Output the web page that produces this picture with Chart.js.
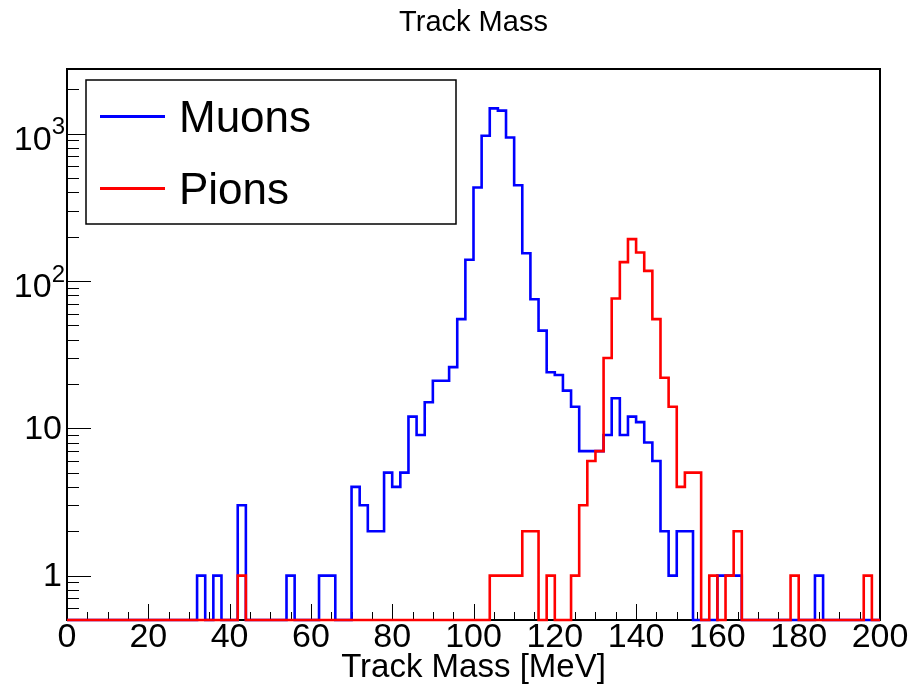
<!DOCTYPE html>
<html>
<head>
<meta charset="utf-8">
<title>Track Mass</title>
<script src="https://cdn.jsdelivr.net/npm/chart.js@4.4.1/dist/chart.umd.min.js"></script>
<style>
  html, body { margin: 0; padding: 0; background: #fff; }
  #wrap { width: 909px; height: 686px; }
</style>
</head>
<body>
<div id="wrap"><canvas id="massChart" width="909" height="686"></canvas></div>
<script>
// === Histogram data: 100 bins of 2 MeV between 0 and 200 MeV ===
const BIN_WIDTH = 2;
const X_MIN = 0;
const X_MAX = 200;
const Y_MIN = 0.5;
const Y_MAX = 2740;

const muonCounts = [
  0, 0, 0, 0, 0, 0, 0, 0, 0, 0,
  0, 0, 0, 0, 0, 0, 1, 0, 1, 0,
  0, 3, 0, 0, 0, 0, 0, 1, 0, 0,
  0, 1, 1, 0, 0, 4, 3, 2, 2, 5,
  4, 5, 12, 9, 15, 21, 21, 26, 55, 139,
  430, 965, 1480, 1430, 940, 446, 154, 75, 46, 24,
  23, 18, 14, 7, 7, 7, 9, 16, 9, 12,
  11, 8, 6, 2, 1, 2, 2, 0, 0, 0,
  1, 1, 1, 0, 0, 0, 0, 0, 0, 0,
  0, 0, 1, 0, 0, 0, 0, 0, 0, 0
];

const pionCounts = [
  0, 0, 0, 0, 0, 0, 0, 0, 0, 0,
  0, 0, 0, 0, 0, 0, 0, 0, 0, 0,
  0, 1, 0, 0, 0, 0, 0, 0, 0, 0,
  0, 0, 0, 0, 0, 0, 0, 0, 0, 0,
  0, 0, 0, 0, 0, 0, 0, 0, 0, 0,
  0, 0, 1, 1, 1, 1, 2, 2, 0, 1,
  0, 0, 1, 3, 6, 7, 30, 76, 134, 192,
  156, 117, 55, 22, 14, 4, 5, 5, 0, 1,
  0, 1, 2, 0, 0, 0, 0, 0, 0, 1,
  0, 0, 0, 0, 0, 0, 0, 0, 1, 0
];

const xTickLabels = [0, 20, 40, 60, 80, 100, 120, 140, 160, 180, 200];
const yTickLabels = [1, 10, 100, 1000];

const FONT = '"Liberation Sans", Arial, Helvetica, sans-serif';

// Histogram outline as step points; empty bins sit on the axis floor
function buildSteps(counts) {
  const pts = counts.map((c, i) => ({
    x: X_MIN + i * BIN_WIDTH,
    y: c > 0 ? c : Y_MIN,
  }));
  const last = counts[counts.length - 1];
  pts.push({ x: X_MAX, y: last > 0 ? last : Y_MIN });
  return pts;
}

function strokeLine(ctx, x1, y1, x2, y2) {
  ctx.beginPath();
  ctx.moveTo(x1, y1);
  ctx.lineTo(x2, y2);
  ctx.stroke();
}

// Frame, inward ticks, labels, titles and legend drawn in the usual ROOT style
const rootStyle = {
  id: "rootStyle",
  beforeDatasetsDraw(chart) {
    const { ctx, chartArea: a, scales } = chart;
    const x = scales.x;
    const y = scales.y;
    ctx.save();
    ctx.strokeStyle = "#000";
    ctx.lineWidth = 1;

    // x ticks: major every 20, minor every 5
    for (let v = X_MIN; v <= X_MAX; v += 5) {
      const px = Math.round(x.getPixelForValue(v)) + 0.5;
      const len = v % 20 === 0 ? 16 : 8;
      strokeLine(ctx, px, a.bottom, px, a.bottom - len);
    }

    // y ticks: decades long, 2..9 short
    for (let k = -1; k <= 3; k++) {
      for (let m = 1; m <= 9; m++) {
        const v = m * Math.pow(10, k);
        if (v < Y_MIN || v > Y_MAX) continue;
        const py = Math.round(y.getPixelForValue(v)) + 0.5;
        const len = m === 1 ? 24 : 12;
        strokeLine(ctx, a.left, py, a.left + len, py);
      }
    }

    ctx.lineWidth = 2;
    ctx.strokeRect(a.left, a.top, a.right - a.left, a.bottom - a.top);
    ctx.restore();
  },
  afterDatasetsDraw(chart) {
    const { ctx } = chart;
    const sets = chart.data.datasets;
    ctx.save();
    // legend box
    ctx.fillStyle = "#fff";
    ctx.fillRect(86, 80, 370, 144);
    ctx.strokeStyle = "#000";
    ctx.lineWidth = 1.5;
    ctx.strokeRect(86, 80, 370, 144);

    const rows = [116.5, 188.5];
    ctx.font = "44px " + FONT;
    ctx.textAlign = "left";
    ctx.textBaseline = "alphabetic";
    sets.forEach((ds, i) => {
      ctx.strokeStyle = ds.borderColor;
      ctx.lineWidth = 3;
      strokeLine(ctx, 100, rows[i], 165, rows[i]);
      ctx.fillStyle = "#000";
      ctx.fillText(ds.label, 179, rows[i] + 15);
    });
    ctx.restore();
  },
  afterDraw(chart) {
    const { ctx, chartArea: a, scales } = chart;
    const x = scales.x;
    const y = scales.y;
    ctx.save();
    ctx.fillStyle = "#000";

    // x tick labels
    ctx.font = "34px " + FONT;
    ctx.textAlign = "center";
    ctx.textBaseline = "middle";
    xTickLabels.forEach((v) => {
      ctx.fillText(String(v), x.getPixelForValue(v), 638);
    });

    // y tick labels, powers written as 10 with a raised exponent
    ctx.textAlign = "right";
    yTickLabels.forEach((v) => {
      const py = y.getPixelForValue(v);
      const exp = Math.round(Math.log10(v));
      if (exp < 2) {
        ctx.font = "34px " + FONT;
        ctx.fillText(String(v), 62, py + 1);
      } else {
        ctx.font = "24px " + FONT;
        ctx.fillText(String(exp), 65, py - 6);
        const w = ctx.measureText(String(exp)).width;
        ctx.font = "34px " + FONT;
        ctx.fillText("10", 65 - w, py + 7);
      }
    });

    // axis title
    ctx.font = "33px " + FONT;
    ctx.textAlign = "center";
    ctx.fillText("Track Mass [MeV]", (a.left + a.right) / 2, 668);

    // plot title
    ctx.font = "29px " + FONT;
    ctx.fillText("Track Mass", (a.left + a.right) / 2, 23);
    ctx.restore();
  },
};

const chart = new Chart(document.getElementById("massChart"), {
  type: "line",
  data: {
    datasets: [
      {
        label: "Muons",
        data: buildSteps(muonCounts),
        borderColor: "#0000ff",
        borderWidth: 2.6,
        stepped: "before",
        pointRadius: 0,
        fill: false,
        clip: 4,
        order: 1,
      },
      {
        label: "Pions",
        data: buildSteps(pionCounts),
        borderColor: "#ff0000",
        borderWidth: 2.6,
        stepped: "before",
        pointRadius: 0,
        fill: false,
        clip: 4,
        order: 0,
      },
    ],
  },
  options: {
    responsive: false,
    animation: false,
    devicePixelRatio: 1,
    layout: { padding: { left: 67, right: 29, top: 69, bottom: 66 } },
    scales: {
      x: { type: "linear", min: X_MIN, max: X_MAX, display: false },
      y: { type: "logarithmic", min: Y_MIN, max: Y_MAX, display: false },
    },
    plugins: {
      legend: { display: false },
      tooltip: { enabled: false },
    },
  },
  plugins: [rootStyle],
});
</script>
</body>
</html>
